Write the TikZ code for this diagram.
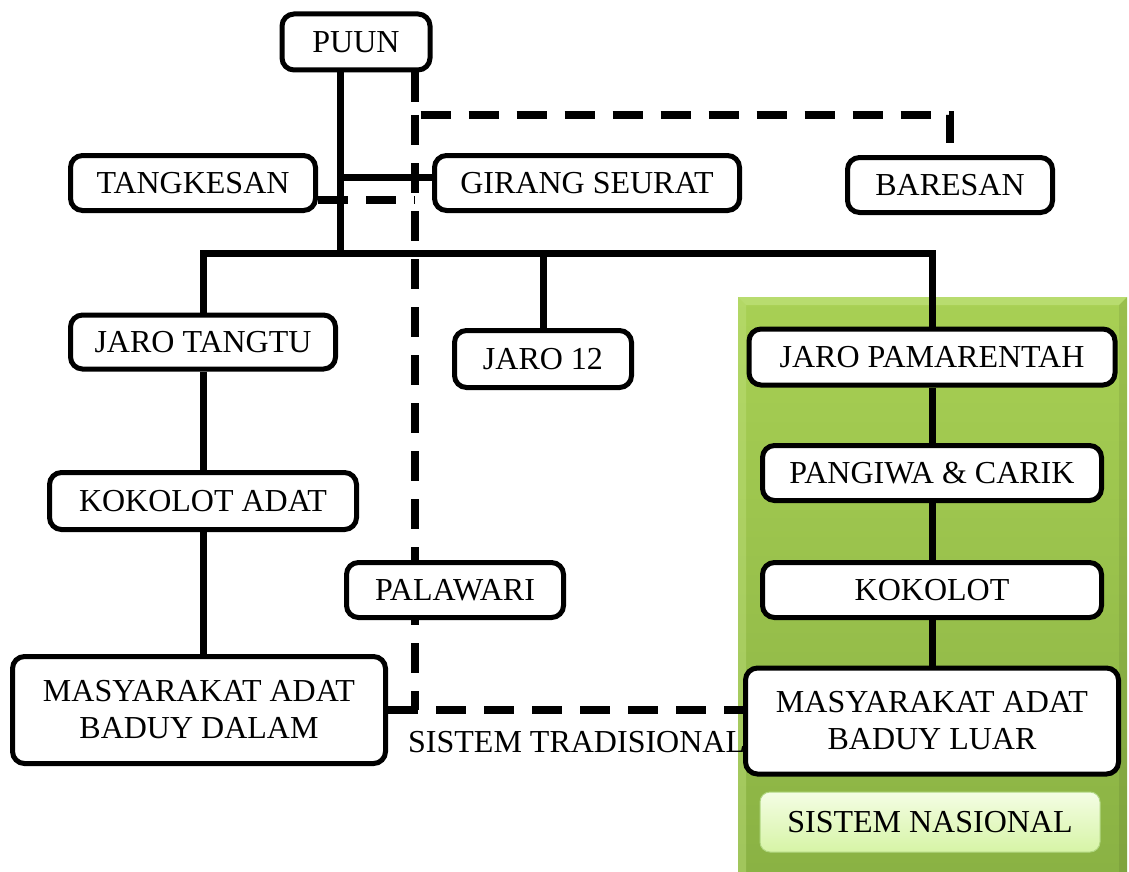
\documentclass[tikz,border=0pt]{standalone}
\usepackage{fontspec}
\setmainfont{Liberation Serif}
\pgfdeclarelayer{panel}
\pgfdeclarelayer{lines}
\pgfsetlayers{panel,lines,main}
\definecolor{gtop}{RGB}{168,208,84}
\definecolor{gbot}{RGB}{138,178,68}
\definecolor{gedge}{RGB}{196,228,130}
\definecolor{ntop}{RGB}{244,253,228}
\definecolor{nbot}{RGB}{214,244,166}
\definecolor{nedge}{RGB}{176,214,128}
\tikzset{
  box/.style={draw, line width=5pt, rounded corners=12pt, fill=white, inner sep=0pt,
    align=center, font=\fontsize{32}{37}\selectfont},
  bx/.style 2 args={box, minimum width=#1, minimum height=#2},
  solidline/.style={line width=7pt},
  dashline/.style={line width=8pt, dash pattern=on 30pt off 18pt},
  lbl/.style={font=\fontsize{32}{37}\selectfont, inner sep=0pt}
}
\begin{document}
\begin{tikzpicture}[x=1pt,y=-1pt]
\useasboundingbox (0,0) rectangle (1129,872);

% nodes
\node[bx={148pt}{56pt}] (puun) at (356,42) {PUUN};
\node[bx={245pt}{55pt}] (tang) at (193,183) {TANGKESAN};
\node[bx={305pt}{55pt}] (girang) at (587,183) {GIRANG SEURAT};
\node[bx={205pt}{55pt}] (baresan) at (950,185) {BARESAN};
\node[bx={265pt}{54pt}] (tangtu) at (203,342) {JARO TANGTU};
\node[bx={177pt}{57pt}] (jaro12) at (543,359) {JARO 12};
\node[bx={307pt}{57pt}] (kadat) at (203,501) {KOKOLOT ADAT};
\node[bx={217pt}{55pt}] (palawari) at (455,590) {PALAWARI};
\node[bx={373pt}{107pt}] (dalam) at (199,710) {MASYARAKAT ADAT\\BADUY DALAM};
\node[bx={366pt}{56pt}] (pamar) at (932,357) {JARO PAMARENTAH};
\node[bx={339pt}{55pt}] (pangiwa) at (932,473) {PANGIWA \& CARIK};
\node[bx={339pt}{55pt}] (kokolot) at (932,590) {KOKOLOT};
\node[bx={373pt}{106pt}] (luar) at (932,721) {MASYARAKAT ADAT\\BADUY LUAR};
\node[draw=nedge, line width=1pt, rounded corners=10pt, top color=ntop, bottom color=nbot,
  minimum width=340pt, minimum height=60pt, inner sep=0pt,
  font=\fontsize{32}{37}\selectfont] (nasional) at (930,822) {SISTEM NASIONAL};
\node[lbl, anchor=west] (trad) at (408,742) {SISTEM TRADISIONAL};

% panel
\begin{pgfonlayer}{panel}
  \fill[top color=gtop, bottom color=gbot] (738,297) rectangle (1127,872);
  \fill[gedge, opacity=0.6] (738,297) -- (1127,297) -- (1119,305) -- (746,305) -- cycle;
  \fill[gedge, opacity=0.4] (738,297) -- (746,305) -- (746,872) -- (738,872) -- cycle;
  \fill[black, opacity=0.08] (1127,297) -- (1127,872) -- (1119,872) -- (1119,305) -- cycle;
\end{pgfonlayer}

% connectors
\coordinate (j) at (340,253);
\coordinate (g) at (340,177);
\coordinate (d) at (415,115);
\coordinate (tk) at (415,200);
\begin{pgfonlayer}{lines}
  \draw[dashline] (puun.south -| d) -- (d) -| (baresan.north);
  \draw[dashline] (d) -- (d |- dalam.east);
  \draw[dashline] (dalam.east) -- (dalam.east -| luar.west);
  \draw[dashline] (tk -| tang.east) -- (tk);
  \draw[solidline] (puun.south -| j) -- (j);
  \draw[solidline] (g) -- (g -| girang.west);
  \draw[solidline] (tangtu.north) |- (j) -| (pamar.north);
  \draw[solidline] (jaro12.north) -- (jaro12.north |- j);
  \draw[solidline] (tangtu.south) -- (kadat.north);
  \draw[solidline] (kadat.south) -- (kadat.south |- dalam.north);
  \draw[solidline] (pamar.south) -- (pangiwa.north);
  \draw[solidline] (pangiwa.south) -- (kokolot.north);
  \draw[solidline] (kokolot.south) -- (luar.north);
\end{pgfonlayer}
\end{tikzpicture}
\end{document}
